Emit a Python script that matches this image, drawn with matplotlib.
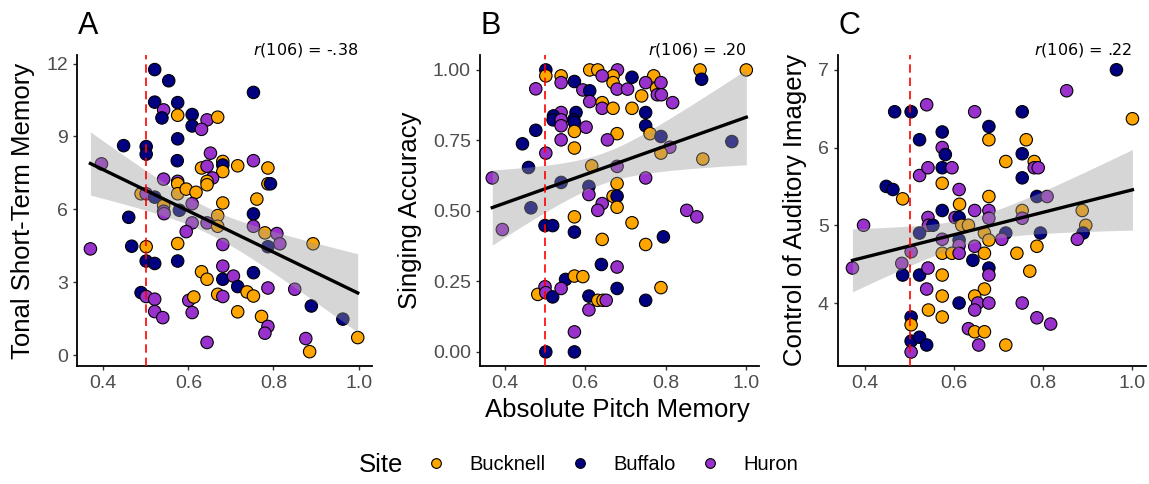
import numpy as np
import matplotlib
matplotlib.use("Agg")
import matplotlib.pyplot as plt
import matplotlib.transforms as mtransforms
from matplotlib.lines import Line2D

plt.rcParams['font.family'] = ['Liberation Sans', 'DejaVu Sans']

# site codes: O = Bucknell, N = Buffalo, P = Huron
site_names = {'O': 'Bucknell', 'N': 'Buffalo', 'P': 'Huron'}
site_colors = {'O': '#FFA500', 'N': '#000080', 'P': '#9932CC'}

# Panel A: Tonal Short-Term Memory
a_x = [0.521, 0.554, 0.521, 0.542, 0.538, 0.575, 0.575, 0.609, 0.609, 0.644,
       0.631, 0.669, 0.753, 0.575, 0.448, 0.501, 0.501, 0.574, 0.652, 0.681,
       0.681, 0.631, 0.644, 0.681, 0.716, 0.753, 0.787, 0.787, 0.793, 0.657,
       0.644, 0.644, 0.542, 0.575, 0.575, 0.396, 0.489, 0.501, 0.521, 0.575,
       0.595, 0.618, 0.542, 0.542, 0.543, 0.579, 0.609, 0.681, 0.761, 0.669,
       0.644, 0.669, 0.609, 0.595, 0.460, 0.753, 0.753, 0.780, 0.808, 0.815,
       0.787, 0.893, 0.370, 0.467, 0.501, 0.575, 0.681, 0.501, 0.521, 0.575,
       0.681, 0.631, 0.644, 0.681, 0.706, 0.753, 0.716, 0.738, 0.753, 0.787,
       0.850, 0.489, 0.501, 0.521, 0.601, 0.613, 0.669, 0.681, 0.521, 0.540,
       0.609, 0.716, 0.772, 0.787, 0.780, 0.889, 0.963, 0.644, 0.876, 0.885,
       0.998]
a_y = [11.75, 11.29, 10.41, 10.09, 9.76, 10.39, 9.87, 9.90, 9.43, 9.68,
       9.29, 9.79, 10.81, 8.90, 8.62, 8.58, 8.27, 8.00, 8.31, 7.97,
       7.82, 7.70, 7.77, 7.55, 7.79, 8.00, 7.70, 7.05, 7.05, 7.29,
       7.15, 7.01, 7.24, 7.15, 7.05, 7.87, 6.64, 6.64, 6.50, 6.64,
       6.83, 6.70, 6.15, 5.92, 5.82, 5.96, 6.23, 6.26, 6.42, 5.74,
       5.44, 5.30, 5.44, 5.08, 5.67, 5.81, 5.30, 5.03, 5.00, 4.58,
       4.46, 4.58, 4.37, 4.48, 4.46, 4.59, 4.55, 3.87, 3.77, 3.87,
       3.66, 3.43, 3.12, 3.12, 3.25, 3.39, 2.82, 2.60, 2.43, 2.76,
       2.71, 2.57, 2.41, 2.30, 2.25, 2.39, 2.50, 2.41, 1.79, 1.54,
       1.75, 1.78, 1.59, 1.18, 0.90, 2.02, 1.48, 0.52, 0.68, 0.14,
       0.72]
a_site = ("NNNPNNONNP" "PONNNNNNPO" "NOPOOPOONP" "OOPPOPOPNO"
          "OOOPPNPOOO" "POPPNNPOPP" "NOPNOOPNNN" "POONPNNOOP"
          "PNPPPOOPPP" "POOPPNNPPO" "O")

# Panel B: Singing Accuracy
b_x = [0.502, 0.502, 0.540, 0.611, 0.631, 0.680, 0.669, 0.642, 0.716, 0.770,
       0.885, 0.889, 1.000, 0.540, 0.573, 0.669, 0.679, 0.705, 0.750, 0.777,
       0.788, 0.477, 0.594, 0.611, 0.611, 0.642, 0.740, 0.779, 0.789, 0.817,
       0.642, 0.669, 0.716, 0.540, 0.577, 0.521, 0.520, 0.540, 0.571, 0.540,
       0.573, 0.602, 0.750, 0.750, 0.477, 0.573, 0.679, 0.761, 0.444, 0.540,
       0.655, 0.788, 0.573, 0.810, 0.788, 0.964, 0.892, 0.502, 0.459, 0.616,
       0.679, 0.369, 0.540, 0.609, 0.750, 0.679, 0.609, 0.669, 0.679, 0.465,
       0.642, 0.631, 0.679, 0.852, 0.877, 0.573, 0.394, 0.500, 0.519, 0.573,
       0.716, 0.642, 0.750, 0.794, 0.640, 0.679, 0.551, 0.573, 0.594, 0.482,
       0.500, 0.502, 0.519, 0.540, 0.609, 0.631, 0.644, 0.652, 0.679, 0.750,
       0.788, 0.609, 0.573, 0.502, 0.573]
b_y = [1.000, 0.979, 0.979, 1.000, 1.000, 1.000, 0.979, 0.979, 0.974, 0.979,
       1.000, 0.967, 1.000, 0.955, 0.959, 0.955, 0.932, 0.932, 0.955, 0.935,
       0.955, 0.933, 0.929, 0.926, 0.888, 0.884, 0.908, 0.912, 0.912, 0.884,
       0.864, 0.864, 0.864, 0.849, 0.849, 0.837, 0.823, 0.823, 0.823, 0.802,
       0.814, 0.797, 0.849, 0.802, 0.786, 0.782, 0.774, 0.774, 0.738, 0.752,
       0.752, 0.764, 0.723, 0.726, 0.705, 0.746, 0.684, 0.705, 0.654, 0.660,
       0.658, 0.617, 0.601, 0.587, 0.617, 0.597, 0.558, 0.552, 0.552, 0.511,
       0.526, 0.502, 0.513, 0.502, 0.479, 0.479, 0.434, 0.448, 0.448, 0.425,
       0.458, 0.399, 0.381, 0.408, 0.310, 0.301, 0.257, 0.269, 0.267, 0.204,
       0.231, 0.210, 0.195, 0.225, 0.198, 0.183, 0.183, 0.183, 0.225, 0.183,
       0.228, 0.149, 0.071, 0.000, 0.000]
b_site = ("NOOOOPOPNO" "ONOPNOPPPO" "PPPNPOOPPP" "POOPNNNPNP"
          "NPNNNOOONP" "PNOPONOPNO" "PPNNPOPONN" "PPOPPOPNNN"
          "OOONNPNOOO" "PPNPNOOPNN" "OPPNN")

# Panel C: Control of Auditory Imagery
c_x = [0.965, 0.853, 1.001, 0.466, 0.503, 0.538, 0.646, 0.753, 0.678, 0.522,
       0.573, 0.678, 0.762, 0.573, 0.580, 0.753, 0.716, 0.780, 0.522, 0.541,
       0.573, 0.595, 0.780, 0.789, 0.753, 0.447, 0.462, 0.484, 0.573, 0.611,
       0.678, 0.786, 0.809, 0.612, 0.573, 0.646, 0.678, 0.753, 0.888, 0.541,
       0.602, 0.611, 0.678, 0.753, 0.396, 0.542, 0.552, 0.617, 0.632, 0.896,
       0.522, 0.668, 0.716, 0.794, 0.890, 0.573, 0.611, 0.678, 0.707, 0.877,
       0.611, 0.646, 0.786, 0.503, 0.573, 0.595, 0.611, 0.668, 0.741, 0.642,
       0.482, 0.371, 0.484, 0.522, 0.541, 0.678, 0.678, 0.573, 0.770, 0.538,
       0.668, 0.573, 0.646, 0.611, 0.653, 0.678, 0.753, 0.542, 0.646, 0.573,
       0.503, 0.503, 0.786, 0.817, 0.632, 0.646, 0.668, 0.503, 0.522, 0.538,
       0.655, 0.716, 0.503]
c_y = [7.00, 6.73, 6.37, 6.46, 6.46, 6.55, 6.46, 6.46, 6.27, 6.10,
       6.20, 6.10, 6.10, 6.00, 5.91, 5.92, 5.82, 5.82, 5.64, 5.74,
       5.74, 5.74, 5.74, 5.74, 5.61, 5.50, 5.46, 5.34, 5.54, 5.46,
       5.37, 5.37, 5.37, 5.27, 5.19, 5.19, 5.19, 5.19, 5.19, 5.10,
       5.10, 5.10, 5.09, 5.09, 5.00, 5.00, 5.00, 5.00, 5.00, 5.00,
       4.90, 4.90, 4.90, 4.90, 4.90, 4.82, 4.81, 4.81, 4.82, 4.82,
       4.74, 4.73, 4.73, 4.66, 4.64, 4.64, 4.64, 4.64, 4.64, 4.55,
       4.51, 4.45, 4.36, 4.36, 4.45, 4.45, 4.36, 4.36, 4.41, 4.18,
       4.18, 4.09, 4.09, 4.00, 4.00, 4.00, 4.00, 3.91, 3.91, 3.82,
       3.82, 3.72, 3.81, 3.73, 3.67, 3.63, 3.63, 3.51, 3.56, 3.46,
       3.46, 3.46, 3.37]
c_site = ("NPONNPPNNN" "NOOPNNOOPP" "NPPPNNNOOP" "ONPONPPOOP"
          "PNPPPPNOOO" "NONNNPNOPP" "PPOPOOPOON" "PPNNPNPOOP"
          "OOONPPPOPO" "NOPPPOONNN" "POP")

panels = [
    ("A", a_x, a_y, a_site, "Tonal Short-Term Memory", [0, 3, 6, 9, 12],
     ["0", "3", "6", "9", "12"], (-0.45, 12.35), "-.38", (77, 372), 23),
    ("B", b_x, b_y, b_site, "Singing Accuracy", [0, 0.25, 0.5, 0.75, 1.0],
     ["0.00", "0.25", "0.50", "0.75", "1.00"], (-0.05, 1.053), ".20", (480, 759), 410),
    ("C", c_x, c_y, c_site, "Control of Auditory Imagery", [4, 5, 6, 7],
     ["4", "5", "6", "7"], (3.19, 7.19), ".22", (838, 1146), 795),
]

W, H = 1149, 484
fig = plt.figure(figsize=(W / 100, H / 100), dpi=100)
top_px, bot_px = 55, 366

for letter, xs, ys, sites, ylabel, yticks, yticklabels, ylim, rtxt, (l_px, r_px), ylab_px in panels:
    ax = fig.add_axes([l_px / W, (H - bot_px) / H, (r_px - l_px) / W, (bot_px - top_px) / H])
    xs = np.array(xs)
    ys = np.array(ys)
    cols = [site_colors[s] for s in sites]
    ax.scatter(xs, ys, s=80, c=cols, edgecolors='black', linewidths=0.8, zorder=2)

    # linear fit with 95% confidence band
    n = len(xs)
    slope, icpt = np.polyfit(xs, ys, 1)
    gx = np.linspace(xs.min(), xs.max(), 100)
    gy = icpt + slope * gx
    resid = ys - (icpt + slope * xs)
    s_err = np.sqrt(np.sum(resid ** 2) / (n - 2))
    se = s_err * np.sqrt(1 / n + (gx - xs.mean()) ** 2 / np.sum((xs - xs.mean()) ** 2))
    ax.fill_between(gx, gy - 1.984 * se, gy + 1.984 * se, color='#999999', alpha=0.4,
                    linewidth=0, zorder=3)
    ax.plot(gx, gy, color='black', linewidth=2.4, zorder=4)

    ax.axvline(0.5, color='red', linestyle=(0, (5, 3)), linewidth=1.2, zorder=5)

    ax.set_xlim(0.3385, 1.0315)
    ax.set_ylim(*ylim)
    ax.set_xticks([0.4, 0.6, 0.8, 1.0])
    ax.set_xticklabels(["0.4", "0.6", "0.8", "1.0"])
    ax.set_yticks(yticks)
    ax.set_yticklabels(yticklabels)
    ax.tick_params(colors='#333333', labelcolor='#4D4D4D', labelsize=14, length=3, width=1)
    for sp in ['top', 'right']:
        ax.spines[sp].set_visible(False)
    for sp in ['left', 'bottom']:
        ax.spines[sp].set_linewidth(1.3)
    ax.set_ylabel(ylabel, fontsize=18.5, color='black', va='center')
    ax.yaxis.set_label_coords((ylab_px - l_px) / (r_px - l_px), 0.5)

    trans = mtransforms.blended_transform_factory(ax.transData, ax.transAxes)
    ax.text(1.0, 1.015, r'$\it{r}$(106) = ' + rtxt, transform=trans, ha='right', va='center',
            fontsize=11.5, family='DejaVu Sans', color='black', clip_on=False)
    fig.text((l_px + 11) / W, 1 - 26 / H, letter, fontsize=22, ha='center', va='center')

fig.text(617 / W, 1 - 410 / H, "Absolute Pitch Memory", fontsize=18.5, ha='center', va='center')

# legend
fig.text(381 / W, 1 - 465 / H, "Site", fontsize=18.5, ha='center', va='center')
handles = [Line2D([], [], marker='o', linestyle='none', markersize=7,
                  markerfacecolor=site_colors[k], markeredgecolor='black', markeredgewidth=0.8,
                  label=site_names[k]) for k in ['O', 'N', 'P']]
fig.legend(handles=handles, loc='center', bbox_to_anchor=(612 / W, 1 - 465 / H), ncol=3,
           frameon=False, fontsize=14.5, handletextpad=1.15, columnspacing=1.2, handlelength=1.0)

fig.savefig("out.png", dpi=100)
